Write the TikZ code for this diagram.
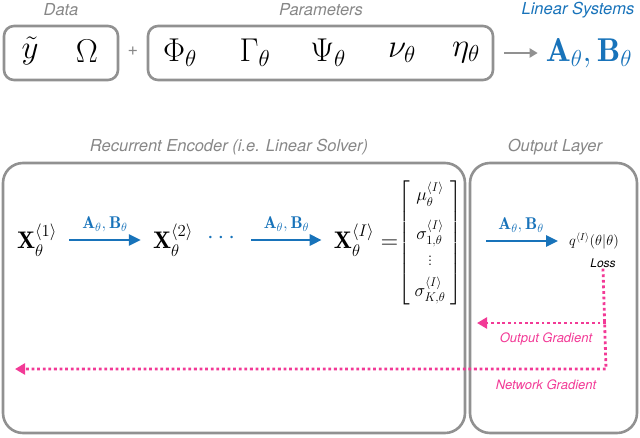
\RequirePackage{fix-cm}
\documentclass[tikz,border=0pt]{standalone}
\usepackage{amsmath}
\usepackage{fontspec}
\newfontfamily\labfont{TeX Gyre Heros}
\usetikzlibrary{arrows.meta}
\definecolor{boxgray}{RGB}{145,145,145}
\definecolor{labgray}{RGB}{135,135,135}
\definecolor{sysblue}{RGB}{24,115,186}
\definecolor{gradpink}{RGB}{242,58,150}
\newcommand{\fs}[1]{\fontsize{#1}{#1}\selectfont}
\newcommand{\ab}{\mathbf{A}_{\theta},\mathbf{B}_{\theta}}

\begin{document}
\begin{tikzpicture}[x=1pt, y=-1pt,
  gbox/.style={draw=boxgray, line width=2.6pt, rounded corners=10pt, inner sep=0pt},
  bigbox/.style={draw=boxgray, line width=2.6pt, rounded corners=20pt, inner sep=0pt},
  lab/.style={font=\labfont\itshape\fs{16.5}, text=labgray},
  sym/.style={font=\fs{33}},
  row/.style={font=\fs{24}, inner sep=2pt},
  barrow/.style={draw=sysblue, line width=2.8pt, -{Triangle[length=12pt,width=11pt]}, shorten <=10pt, shorten >=10pt},
  alab/.style={font=\fs{17}, text=sysblue, above=3pt},
  grad/.style={draw=gradpink, line width=2.8pt, dash pattern=on 2.8pt off 2.8pt, -{Triangle[length=10pt,width=11pt]}},
  glab/.style={font=\labfont\itshape\fs{13}, text=gradpink}]
\useasboundingbox (0,0) rectangle (640,437);

% top row: data, parameters, linear systems
\node[lab] (datalab) at (61,10) {Data};
\node[gbox, minimum width=114pt, minimum height=54pt] (data) at (61,53) {};
\node[sym] (ytil) at (30,51) {$\tilde{y}$};
\node[sym] (omega) at (87,51) {$\Omega$};
\node[font=\labfont\fs{18}, text=labgray] (plus) at (133,51) {+};

\node[lab] (paramlab) at (321,10) {Parameters};
\node[gbox, minimum width=345pt, minimum height=54pt] (params) at (320.5,53) {};
\node[sym] (phi) at (180,53) {$\Phi_{\theta}$};
\node[sym] (gam) at (255,53) {$\Gamma_{\theta}$};
\node[sym] (psi) at (328,53) {$\Psi_{\theta}$};
\node[sym] (nu) at (402,53) {$\nu_{\theta}$};
\node[sym] (eta) at (466,53) {$\eta_{\theta}$};

\node[lab, text=sysblue] (syslab) at (578,10) {Linear Systems};
\node[sym, text=sysblue, inner sep=0pt] (linsys) at (589,53) {$\ab$};
\draw[draw=boxgray, line width=2.6pt, -{Triangle[length=8pt,width=9pt]}, shorten <=10pt, shorten >=8pt] (params.east) -- (linsys.west |- params.east);

% bottom: encoder and output layer
\node[lab] (enclab) at (229,147) {Recurrent Encoder (i.e. Linear Solver)};
\node[bigbox, minimum width=462pt, minimum height=270pt] (enc) at (234,298) {};
\node[lab] (outlab) at (555,147) {Output Layer};
\node[bigbox, minimum width=167pt, minimum height=270pt] (outl) at (553.5,298) {};

\node[row] (x1) at (37,240) {$\mathbf{X}^{\langle 1\rangle}_{\theta}$};
\node[row] (x2) at (173,240) {$\mathbf{X}^{\langle 2\rangle}_{\theta}$};
\node[row, text=sysblue] (dots) at (223,238) {$\cdots$};
\node[row] (xi) at (366,240) {$\mathbf{X}^{\langle I\rangle}_{\theta}=$};
\node[font=\fs{18}, inner sep=0pt] (vec) at (430,243) {$\left[\begin{array}{c}
  \mu^{\langle I\rangle}_{\theta}\\[14pt]
  \sigma^{\langle I\rangle}_{1,\theta}\\[6pt]
  \vdots\\[6pt]
  \sigma^{\langle I\rangle}_{K,\theta}
  \end{array}\right]$};
\node[font=\fs{14.5}, inner sep=1pt] (q) at (594,241) {$q^{\langle I\rangle}(\theta|\theta)$};
\node[font=\labfont\itshape\fs{12}, inner sep=1pt] (loss) at (603,263) {Loss};

\draw[barrow] (x1.east) -- (x2.west) node[alab, midway] {$\ab$};
\draw[barrow] (dots.east |- x2.east) -- (xi.west) node[alab, midway] {$\ab$};
\draw[barrow, shorten <=24pt] (vec.east |- q.west) -- (q.west) node[alab, midway, xshift=6pt] {$\ab$};

% gradients
\coordinate (split) at (606,323);
\coordinate (turn) at (606,369);
\coordinate (outend) at (477,323);
\coordinate (netend) at (15,369);
\draw[grad] (loss.south) -- (turn) -- (netend);
\draw[grad] (split) -- (outend);
\node[glab] (outgrad) at (546,339) {Output Gradient};
\node[glab] (netgrad) at (546,385) {Network Gradient};
\end{tikzpicture}
\end{document}
